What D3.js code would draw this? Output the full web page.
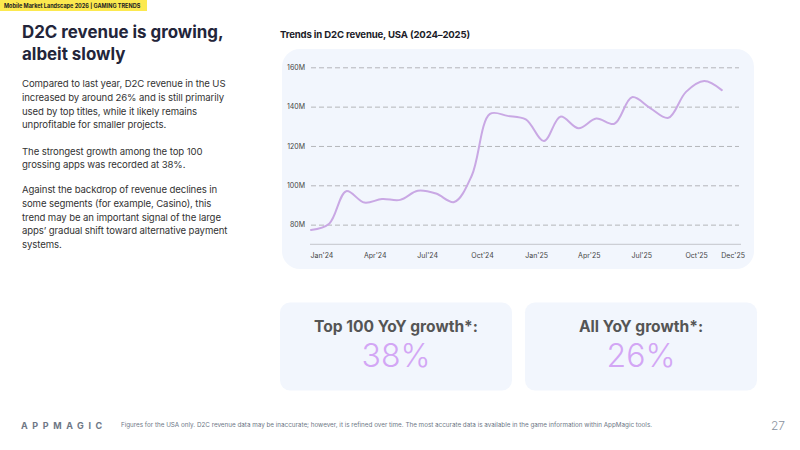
<!DOCTYPE html>
<html>
<head>
<meta charset="utf-8">
<script src="https://cdn.jsdelivr.net/npm/d3@7"></script>
<style>
  html, body { margin: 0; padding: 0; background: #ffffff; }
  svg { display: block; font-family: Inter, "Noto Sans", sans-serif; }
</style>
</head>
<body>
<div id="main"></div>
<script>
// monthly D2C revenue, USA, in millions
const months = ["2024-01","2024-02","2024-03","2024-04","2024-05","2024-06",
                "2024-07","2024-08","2024-09","2024-10","2024-11","2024-12",
                "2025-01","2025-02","2025-03","2025-04","2025-05","2025-06",
                "2025-07","2025-08","2025-09","2025-10","2025-11","2025-12"];
const revenue = [77.3, 80.5, 97.0, 91.2, 93.0, 92.6,
                 97.2, 95.8, 91.5, 105.0, 136.3, 135.3,
                 133.5, 122.5, 134.9, 129.0, 134.0, 131.3,
                 144.8, 139.3, 134.3, 147.5, 153.0, 148.4];
const yTicks = [80, 100, 120, 140, 160];
const xTicks = ["2024-01","2024-04","2024-07","2024-10","2025-01","2025-04","2025-07","2025-10","2025-12"];

const paragraphs = [
  ["Compared to last year, D2C revenue in the US",
   "increased by around 26% and is still primarily",
   "used by top titles, while it likely remains",
   "unprofitable for smaller projects."],
  ["The strongest growth among the top 100",
   "grossing apps was recorded at 38%."],
  ["Against the backdrop of revenue declines in",
   "some segments (for example, Casino), this",
   "trend may be an important signal of the large",
   "apps\u2019 gradual shift toward alternative payment",
   "systems."]
];
const kpiLabels = ["Top 100 YoY growth*:", "All YoY growth*:"];
const kpiValues = ["38%", "26%"];

const ctx = { W: 800, H: 450 };

function createViz(){
  const parse = d3.timeParse("%Y-%m");
  const data = months.map((m, i) => ({ date: parse(m), value: revenue[i] }));

  const svg = d3.select("#main").append("svg")
    .attr("width", ctx.W).attr("height", ctx.H);

  // header badge
  svg.append("rect").attr("x", 0).attr("y", 0).attr("width", 147).attr("height", 11)
     .attr("fill", "#fce94f");
  svg.append("text").attr("x", 4).attr("y", 8)
     .attr("font-size", 5.5).attr("font-weight", 700).attr("fill", "#222")
     .text("Mobile Market Landscape 2026 | GAMING TRENDS");

  // left title + copy
  const title = svg.append("text").attr("font-size", 16.9).attr("font-weight", 700)
     .attr("fill", "#23253a");
  title.append("tspan").attr("x", 22).attr("y", 37.5).text("D2C revenue is growing,");
  title.append("tspan").attr("x", 22).attr("y", 59.5).text("albeit slowly");

  let yPos = [87, 154.5, 193];
  paragraphs.forEach((p, pi) => {
    const t = svg.append("text").attr("font-size", 9.6).attr("letter-spacing", -0.1)
      .attr("fill", "#333");
    p.forEach((line, li) => {
      t.append("tspan").attr("x", 22).attr("y", yPos[pi] + li * 13.8).text(line);
    });
  });

  // chart title
  svg.append("text").attr("x", 280).attr("y", 38)
     .attr("font-size", 9.6).attr("font-weight", 700).attr("letter-spacing", -0.15)
     .attr("fill", "#1c1c28")
     .text("Trends in D2C revenue, USA (2024\u20132025)");

  // chart panel
  svg.append("rect").attr("x", 282).attr("y", 49).attr("width", 472).attr("height", 220)
     .attr("rx", 18).attr("fill", "#f2f6fd");

  ctx.x = d3.scaleTime().domain([parse("2024-01"), parse("2026-01")]).range([311, 740]);
  ctx.y = d3.scaleLinear().domain([70, 160]).range([244.3, 67.3]);

  const g = svg.append("g");

  // grid
  g.append("g")
    .attr("transform", "translate(311,0)")
    .call(d3.axisLeft(ctx.y).tickValues(yTicks).tickSize(-428).tickPadding(6)
      .tickFormat(d => d + "M"))
    .call(a => a.select(".domain").remove())
    .call(a => a.selectAll(".tick line").attr("stroke", "#b4b6ba")
      .attr("stroke-dasharray", "5,3").attr("stroke-width", 1))
    .call(a => a.selectAll(".tick text").attr("font-size", 7).attr("fill", "#444")
      .attr("font-family", "Inter, sans-serif"));

  // x axis
  g.append("g")
    .attr("transform", "translate(0,244.3)")
    .call(d3.axisBottom(ctx.x).tickValues(xTicks.map(parse)).tickSize(0).tickPadding(9)
      .tickFormat(d3.timeFormat("%b'%y")))
    .call(a => a.select(".domain").attr("stroke", "#c4c6cb").attr("d", "M310,0H741"))
    .call(a => a.selectAll(".tick text").attr("font-size", 7).attr("fill", "#444")
      .attr("text-anchor", "start").attr("dx", -1)
      .attr("font-family", "Inter, sans-serif"));

  // line
  g.append("path")
    .datum(data)
    .attr("fill", "none")
    .attr("stroke", "#c9a8e4")
    .attr("stroke-width", 2)
    .attr("stroke-linecap", "round")
    .attr("d", d3.line()
      .x(d => ctx.x(d.date))
      .y(d => ctx.y(d.value))
      .curve(d3.curveCatmullRom.alpha(0.5)));

  // KPI cards
  const cardX = [280, 525];
  cardX.forEach((cx, i) => {
    svg.append("rect").attr("x", cx).attr("y", 302.5).attr("width", 232).attr("height", 88)
       .attr("rx", 10).attr("fill", "#f2f6fd");
    svg.append("text").attr("x", cx + 116).attr("y", 332)
       .attr("text-anchor", "middle").attr("font-size", 15.6).attr("font-weight", 700)
       .attr("fill", "#555").text(kpiLabels[i]);
    svg.append("text").attr("x", cx + 116).attr("y", 367)
       .attr("text-anchor", "middle").attr("font-size", 32).attr("font-weight", 300)
       .attr("fill", "#d3a6f5").text(kpiValues[i]);
  });

  // footer
  svg.append("text").attr("x", 21).attr("y", 428.5)
     .attr("font-size", 9).attr("font-weight", 700).attr("letter-spacing", 4.6)
     .attr("fill", "#6e7786").text("APPMAGIC");
  svg.append("text").attr("x", 121).attr("y", 427)
     .attr("font-size", 6.3).attr("fill", "#6e7786")
     .text("Figures for the USA only. D2C revenue data may be inaccurate; however, it is refined over time. The most accurate data is available in the game information within AppMagic tools.");
  svg.append("text").attr("x", 771).attr("y", 429.5)
     .attr("font-size", 12).attr("font-weight", 300).attr("fill", "#8a93a0").text("27");
}

createViz();
</script>
</body>
</html>
